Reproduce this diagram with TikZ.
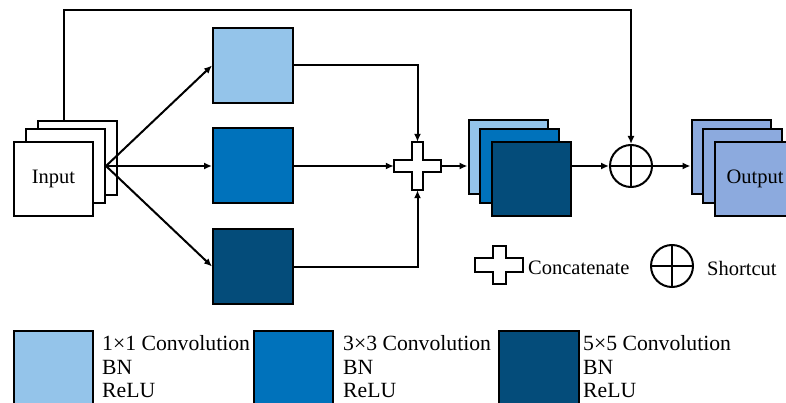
\documentclass[tikz,border=0pt]{standalone}
\usepackage{fontspec}
\setmainfont{Liberation Serif}
\usetikzlibrary{arrows.meta,calc}
\definecolor{lightb}{RGB}{148,196,234}
\definecolor{midb}{RGB}{0,114,187}
\definecolor{darkb}{RGB}{4,76,122}
\definecolor{outb}{RGB}{140,170,222}
\tikzset{
  sq/.style={draw, line width=2pt, minimum width=79, minimum height=74, inner sep=0pt, font=\fontsize{20.5}{24}\selectfont},
  arr/.style={line width=2pt, -{Latex[length=8pt,width=7pt]}},
  ln/.style={line width=2pt},
  sc/.style={circle, draw, line width=2pt, minimum size=42, inner sep=0pt},
  lgtext/.style={font=\fontsize{20.5}{24}\selectfont, inner sep=0pt, align=left},
  lgbig/.style={font=\fontsize{21.7}{23.5}\selectfont, inner sep=0pt, align=left},
  crossbox/.style={inner sep=0pt, minimum width=47, minimum height=48}
}
\begin{document}
\begin{tikzpicture}[x=1pt,y=-1pt]
\useasboundingbox[fill=white] (0,0) rectangle (786,403);
% input stack
\node[sq, fill=white] (inC) at (77.5,158) {};
\node[sq, fill=white] (inB) at (65.5,166) {};
\node[sq, fill=white] (inA) at (53.5,179) {Input};
% conv boxes
\node[sq, fill=lightb, minimum width=80, minimum height=75] (c1) at (253,65.5) {};
\node[sq, fill=midb, minimum width=80, minimum height=75] (c3) at (253,166) {};
\node[sq, fill=darkb, minimum width=80, minimum height=75] (c5) at (253,266.5) {};
% concat
\node[crossbox] (cat) at (417.5,166) {};
\draw[ln, fill=white, shift={(cat.center)}] (-23.5,-6) -- (-5.5,-6) -- (-5.5,-24) -- (5.5,-24) -- (5.5,-6) -- (23.5,-6) -- (23.5,6) -- (5.5,6) -- (5.5,24) -- (-5.5,24) -- (-5.5,6) -- (-23.5,6) -- cycle;
% concat stack
\node[sq, fill=lightb] (s1) at (508,157.5) {};
\node[sq, fill=midb] (s2) at (519.5,166) {};
\node[sq, fill=darkb] (s3) at (531.5,179) {};
% shortcut
\node[sc] (add) at (631,166) {};
\draw[ln] (add.north) -- (add.south) (add.west) -- (add.east);
% output stack
\node[sq, fill=outb] (o1) at (731,157.5) {};
\node[sq, fill=outb] (o2) at (742,166) {};
\node[sq, fill=outb, minimum width=80] (o3) at (755,179) {Output};
% connectors
\draw[arr] (inB.east) -- (c1.west);
\draw[arr] (inB.east) -- (c3.west);
\draw[arr] (inB.east) -- (c5.west);
\draw[arr] (c1.east) -| (cat.north);
\draw[arr] (c3.east) -- (cat.west);
\draw[arr] (c5.east) -| (cat.south);
\draw[arr] (cat.east) -- (s1.west |- cat.east);
\draw[arr] (s3.east |- add.west) -- (add.west);
\draw[arr] (add.east) -- (o1.west |- add.east);
\coordinate (tapStart) at ($(inC.north west)+(27,0)$);
\coordinate (topY) at (0,10);
\draw[arr] (tapStart) -- (tapStart |- topY) -| (add.north);
% legend: concat / shortcut
\node[inner sep=0pt, minimum width=48, minimum height=38] (lcat) at (499,265) {};
\draw[ln, fill=white, shift={(lcat.center)}] (-24,-7) -- (-6.5,-7) -- (-6.5,-19) -- (6.5,-19) -- (6.5,-7) -- (24,-7) -- (24,7) -- (6.5,7) -- (6.5,19) -- (-6.5,19) -- (-6.5,7) -- (-24,7) -- cycle;
\node[lgtext, anchor=west] (lcatT) at (528,268) {Concatenate};
\node[sc] (lsc) at (672,266) {};
\draw[ln] (lsc.north) -- (lsc.south) (lsc.west) -- (lsc.east);
\node[lgtext, anchor=west] (lscT) at (707,268) {Shortcut};
% legend boxes
\node[sq, fill=lightb, minimum width=79, minimum height=80] (l1) at (53.5,371) {};
\node[sq, fill=midb, minimum width=79, minimum height=80] (l3) at (293.5,371) {};
\node[sq, fill=darkb, minimum width=80, minimum height=80] (l5) at (539,371) {};
\node[lgbig, anchor=west] (t1) at (102,367) {1×1 Convolution\\BN\\ReLU};
\node[lgbig, anchor=west] (t3) at (343,367) {3×3 Convolution\\BN\\ReLU};
\node[lgbig, anchor=west] (t5) at (583,367) {5×5 Convolution\\BN\\ReLU};
\end{tikzpicture}
\end{document}
